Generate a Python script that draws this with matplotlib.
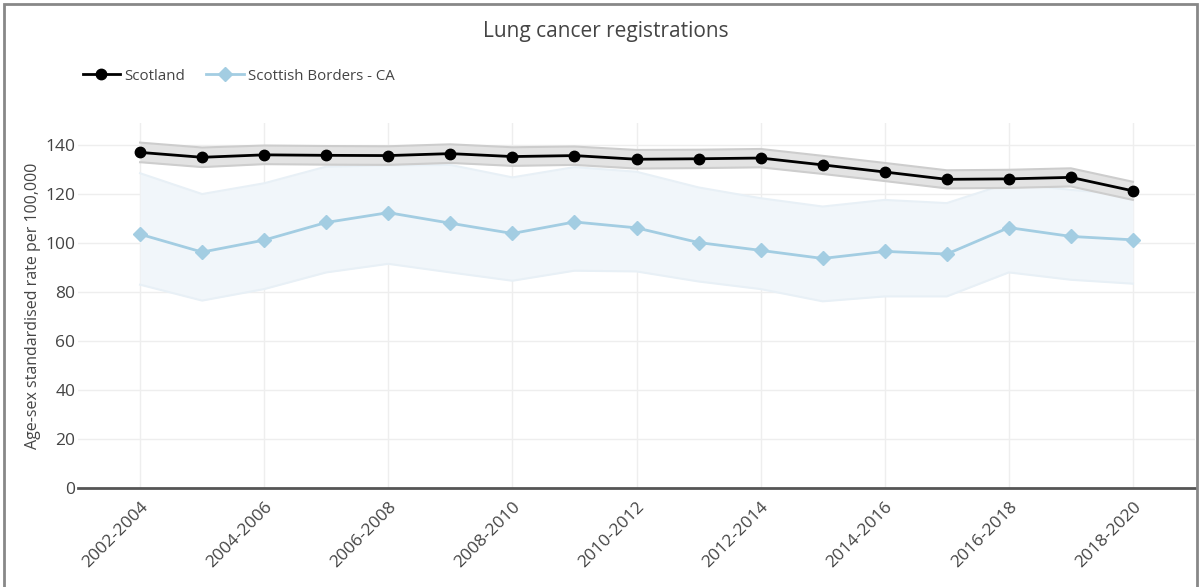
import matplotlib.pyplot as plt
import numpy as np
from matplotlib.patches import Rectangle

periods = [
    "2002-2004", "2003-2005", "2004-2006", "2005-2007", "2006-2008", "2007-2009",
    "2008-2010", "2009-2011", "2010-2012", "2011-2013", "2012-2014", "2013-2015",
    "2014-2016", "2015-2017", "2016-2018", "2017-2019", "2018-2020"
]

scotland = [137.0, 135.0, 136.0, 135.8, 135.7, 136.5, 135.3, 135.7, 134.2,
            134.4, 134.7, 131.9, 129.0, 126.0, 126.2, 126.8, 121.3]
scotland_upper = [141.0, 139.0, 139.8, 139.6, 139.5, 140.3, 139.1, 139.4, 138.0,
                  138.1, 138.4, 135.6, 132.7, 129.7, 129.9, 130.5, 125.0]
scotland_lower = [133.0, 131.0, 132.2, 132.0, 131.9, 132.7, 131.5, 131.9, 130.4,
                  130.6, 130.9, 128.2, 125.3, 122.3, 122.5, 123.1, 117.6]

borders = [103.6, 96.3, 101.2, 108.4, 112.4, 108.1, 103.9, 108.6, 106.2,
           100.2, 97.0, 93.7, 96.6, 95.5, 106.3, 102.7, 101.3]
borders_upper = [128.5, 120.0, 124.4, 131.2, 131.7, 131.9, 126.8, 131.0, 129.1,
                 122.7, 118.3, 114.9, 117.6, 116.3, 124.5, 121.7, 119.5]
borders_lower = [83.0, 76.5, 81.2, 88.0, 91.5, 88.0, 84.6, 88.7, 88.4,
                 84.3, 81.2, 76.2, 78.2, 78.2, 88.0, 85.0, 83.4]

plt.rcParams['font.family'] = ['Open Sans', 'DejaVu Sans']

W, H = 1201, 587
fig = plt.figure(figsize=(W / 100, H / 100), dpi=100)
ax = fig.add_axes([78 / W, 1 - 488 / H, (1195 - 78) / W, (488 - 123) / H])

x = np.arange(len(periods))

# confidence bands
ax.fill_between(x, borders_lower, borders_upper, color='#f1f6fa', lw=0, zorder=1)
ax.plot(x, borders_upper, color='#e8f0f6', lw=1.5, zorder=1.1)
ax.plot(x, borders_lower, color='#e8f0f6', lw=1.5, zorder=1.1)
ax.fill_between(x, scotland_lower, scotland_upper, color='#e3e3e3', lw=0, zorder=2)
ax.plot(x, scotland_upper, color='#cdcdcd', lw=1.5, zorder=2.1)
ax.plot(x, scotland_lower, color='#cdcdcd', lw=1.5, zorder=2.1)

ax.plot(x, scotland, color='black', lw=2, marker='o', ms=7.5, zorder=4, label='Scotland')
ax.plot(x, borders, color='#a3cde2', lw=2, marker='D', ms=7, zorder=3,
        label='Scottish Borders - CA')

ax.set_xlim(-1, 17)
ax.set_ylim(0, 149)
ax.set_xticks(x[::2])
ax.set_xticklabels(periods[::2], rotation=45, ha='right', rotation_mode='anchor',
                   fontsize=12.5, color='#444444')
ax.set_yticks(np.arange(0, 141, 20))
ax.tick_params(axis='y', length=0, pad=2, labelsize=12.5, labelcolor='#444444')
ax.tick_params(axis='x', length=0, pad=8)
ax.grid(True, color='#eeeeee', lw=1)
ax.set_axisbelow(True)

for side in ['top', 'right', 'left']:
    ax.spines[side].set_visible(False)
ax.spines['bottom'].set_color('#555555')
ax.spines['bottom'].set_linewidth(2)

ax.set_ylabel('Age-sex standardised rate per 100,000', fontsize=11.5, color='#444444',
              labelpad=3)

fig.text(606 / W, 1 - 32 / H, 'Lung cancer registrations', ha='center', va='center',
         fontsize=15, color='#444444')

fig.legend(loc='center left', bbox_to_anchor=(69 / W, 1 - 76 / H), ncol=2,
           frameon=False, fontsize=10.8, handlelength=2.5, columnspacing=1.4,
           handletextpad=0.3, labelcolor='#444444')

# outer frame
fig.patches.append(Rectangle((4 / W, -0.05), (1197 - 4) / W, 1 - 4 / H + 0.05,
                             transform=fig.transFigure, fill=False,
                             edgecolor='#888888', lw=2, zorder=10))

fig.savefig('out.png', dpi=100)
